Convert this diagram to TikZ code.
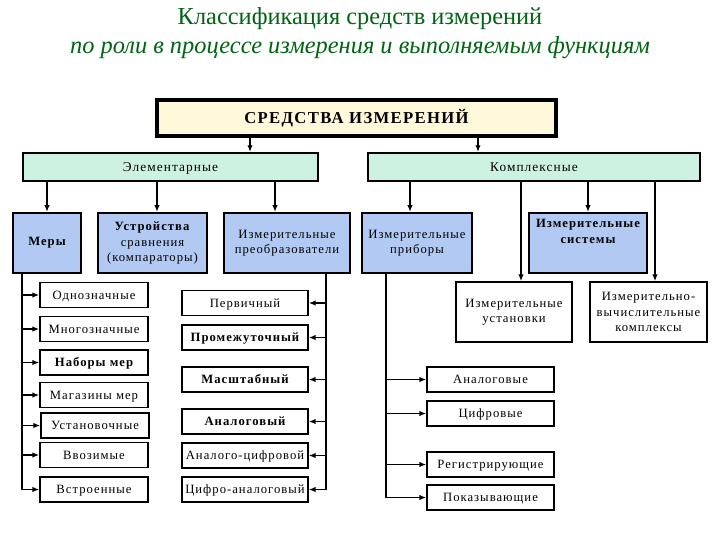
\documentclass[tikz,border=0pt]{standalone}
\usepackage{fontspec}
\setmainfont{Liberation Serif}
\newfontfamily\boxfont[LetterSpace=8]{Liberation Serif}
\usetikzlibrary{arrows.meta}

\definecolor{titlegreen}{RGB}{0,100,18}
\definecolor{topfill}{RGB}{255,248,218}
\definecolor{groupfill}{RGB}{206,242,226}
\definecolor{kindfill}{RGB}{178,202,243}

\tikzset{every picture/.style={line width=0.75pt},
  titletext/.style={text=titlegreen, inner sep=0pt, font=\fontsize{18.3}{20}\selectfont},
  topbox/.style={draw, line width=2.4pt, fill=topfill, inner sep=0pt, font=\boxfont\fontsize{12.5}{14}\selectfont\bfseries},
  groupbox/.style={draw, line width=1.6pt, fill=groupfill, inner sep=0pt, minimum height=21pt, text height=6.8pt, text depth=0pt, font=\boxfont\fontsize{10}{11}\selectfont},
  kindbox/.style={draw, line width=1.7pt, fill=kindfill, inner sep=0pt, align=center, minimum height=45pt, font=\boxfont\fontsize{9.5}{11.5}\selectfont},
  bigbox/.style={draw, line width=1.3pt, fill=white, inner sep=0pt, align=center, minimum height=45pt, font=\boxfont\fontsize{9.5}{11.5}\selectfont},
  leafbox/.style={draw, line width=1.3pt, fill=white, inner sep=0pt, minimum height=18.75pt, text height=6.4pt, text depth=0pt, font=\boxfont\fontsize{9.5}{11}\selectfont},
  boldleaf/.style={leafbox, font=\boxfont\fontsize{9.5}{11}\selectfont\bfseries},
  arr/.style={-{Latex[length=5pt,width=4pt]}, line width=0.9pt}
}

\begin{document}
\begin{tikzpicture}[x=0.75pt,y=0.75pt,yscale=-1,xscale=1]
\useasboundingbox (0,0) rectangle (720,540);

% Title
\node[titletext] (title1) at (360,19) {Классификация средств измерений};
\node[titletext, font=\fontsize{18.3}{20}\selectfont\itshape] (title2) at (360,48) {по роли в процессе измерения и выполняемым функциям};

% Top levels
\node[topbox, minimum width=299.25pt, minimum height=27pt] (sredstva) at (356.5,118) {СРЕДСТВА ИЗМЕРЕНИЙ};
\node[groupbox, minimum width=221.25pt] (elem) at (170.5,167) {Элементарные};
\node[groupbox, minimum width=249pt] (kompl) at (534,167) {Комплексные};

% Kinds
\node[kindbox, minimum width=51pt, font=\boxfont\fontsize{9.5}{11.5}\selectfont\bfseries] (mery) at (47,243) {Меры};
\node[kindbox, minimum width=81.75pt] (kompar) at (152.5,243) {\textbf{Устройства}\\сравнения\\(компараторы)};
\node[kindbox, minimum width=94.5pt] (preobr) at (287,243) {Измерительные\\преобразователи};
\node[kindbox, minimum width=82.5pt] (pribory) at (417,243) {Измерительные\\приборы};
\node[kindbox, minimum width=88.5pt, font=\boxfont\fontsize{9.5}{11.5}\selectfont\bfseries] (sistemy) at (588,243) {Измерительные\\системы\\[6pt]};
\node[bigbox, minimum width=87pt] (ustanovki) at (514,312) {Измерительные\\установки};
\node[bigbox, minimum width=87.75pt] (ivk) at (648.5,312) {Измерительно-\\вычислительные\\комплексы};

% Measures
\node[leafbox, minimum width=81pt] (odnozn) at (94,295) {Однозначные};
\node[leafbox, minimum width=81pt] (mnogozn) at (94,329) {Многозначные};
\node[boldleaf, minimum width=81pt] (nabory) at (94,362.5) {Наборы мер};
\node[leafbox, minimum width=81pt] (magaziny) at (94,395) {Магазины мер};
\node[leafbox, minimum width=81pt] (ustanov) at (95,425.5) {Установочные};
\node[leafbox, minimum width=81pt] (vvozim) at (94,455) {Ввозимые};
\node[leafbox, minimum width=81pt] (vstroen) at (94,489.5) {Встроенные};

% Converters
\node[leafbox, minimum width=94.5pt] (pervich) at (245,303) {Первичный};
\node[boldleaf, minimum width=94.5pt] (promezh) at (245,337.5) {Промежуточный};
\node[boldleaf, minimum width=94.5pt] (masshtab) at (245,379.5) {Масштабный};
\node[boldleaf, minimum width=94.5pt] (analog) at (245,421.5) {Аналоговый};
\node[leafbox, minimum width=94.5pt] (acp) at (245,455.5) {Аналого-цифровой};
\node[leafbox, minimum width=94.5pt] (cap) at (245,489.5) {Цифро-аналоговый};

% Instruments
\node[leafbox, minimum width=95.25pt] (analogovye) at (490.5,379.5) {Аналоговые};
\node[leafbox, minimum width=95.25pt] (cifrovye) at (490.5,413.5) {Цифровые};
\node[leafbox, minimum width=95.25pt] (registr) at (490.5,464.5) {Регистрирующие};
\node[leafbox, minimum width=95.25pt] (pokaz) at (490.5,497.5) {Показывающие};

% Connectors
\draw[arr] (sredstva.south -| 250,0) -- (elem.north -| 250,0);
\draw[arr] (sredstva.south -| 478,0) -- (kompl.north -| 478,0);
\foreach \kind/\x in {mery/47, kompar/157, preobr/275}
  \draw[arr] (elem.south -| \x,0) -- (\kind.north -| \x,0);
\foreach \kind/\x in {pribory/410, ustanovki/521, sistemy/588, ivk/655}
  \draw[arr] (kompl.south -| \x,0) -- (\kind.north -| \x,0);
\foreach \leaf in {odnozn, mnogozn, nabory, magaziny, ustanov, vvozim, vstroen}
  \draw[arr] (mery.south -| 22,0) |- (\leaf.west);
\foreach \leaf in {pervich, promezh, masshtab, analog, acp, cap}
  \draw[arr] (preobr.south -| 326,0) |- (\leaf.east);
\foreach \leaf in {analogovye, cifrovye, registr, pokaz}
  \draw[arr] (pribory.south -| 386,0) |- (\leaf.west);

\end{tikzpicture}
\end{document}
